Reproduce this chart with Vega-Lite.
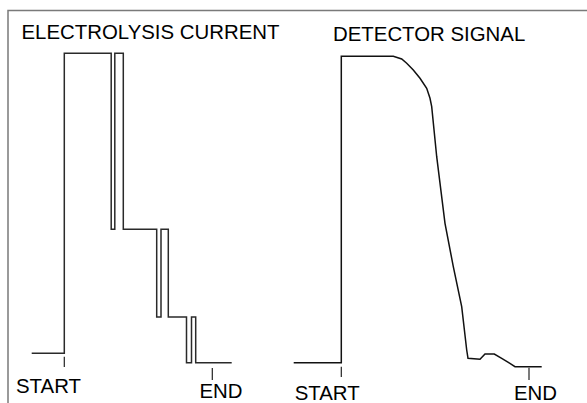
{
  "$schema": "https://vega.github.io/schema/vega-lite/v6.json",
  "width": 587,
  "height": 403,
  "padding": 0,
  "autosize": {"type": "none"},
  "background": "white",
  "config": {"view": {"stroke": null}},
  "datasets": {
    "traces": [
      {"series": "frame", "i": 0, "x": 8, "y": 403},
      {"series": "frame", "i": 1, "x": 8, "y": 10.5},
      {"series": "frame", "i": 2, "x": 587, "y": 10.5},

      {"series": "current", "i": 0, "x": 31.7, "y": 353.3},
      {"series": "current", "i": 1, "x": 64.3, "y": 353.3},
      {"series": "current", "i": 2, "x": 64.3, "y": 53.3},
      {"series": "current", "i": 3, "x": 111.2, "y": 53.3},
      {"series": "current", "i": 4, "x": 111.2, "y": 229.3},
      {"series": "current", "i": 5, "x": 114.8, "y": 229.3},
      {"series": "current", "i": 6, "x": 114.8, "y": 53.3},
      {"series": "current", "i": 7, "x": 123.3, "y": 53.3},
      {"series": "current", "i": 8, "x": 123.3, "y": 229.3},
      {"series": "current", "i": 9, "x": 156.7, "y": 229.3},
      {"series": "current", "i": 10, "x": 156.7, "y": 317},
      {"series": "current", "i": 11, "x": 161, "y": 317},
      {"series": "current", "i": 12, "x": 161, "y": 229.3},
      {"series": "current", "i": 13, "x": 168.3, "y": 229.3},
      {"series": "current", "i": 14, "x": 168.3, "y": 317},
      {"series": "current", "i": 15, "x": 186.5, "y": 317},
      {"series": "current", "i": 16, "x": 186.5, "y": 362.7},
      {"series": "current", "i": 17, "x": 191.5, "y": 362.7},
      {"series": "current", "i": 18, "x": 191.5, "y": 317},
      {"series": "current", "i": 19, "x": 195.7, "y": 317},
      {"series": "current", "i": 20, "x": 195.7, "y": 362.7},
      {"series": "current", "i": 21, "x": 231.7, "y": 362.7},

      {"series": "signal", "i": 0, "x": 293.7, "y": 362.7},
      {"series": "signal", "i": 1, "x": 341.3, "y": 362.7},
      {"series": "signal", "i": 2, "x": 341.3, "y": 56.3},
      {"series": "signal", "i": 3, "x": 393.3, "y": 56.3},
      {"series": "signal", "i": 4, "x": 401.7, "y": 59},
      {"series": "signal", "i": 5, "x": 406.7, "y": 63.3},
      {"series": "signal", "i": 6, "x": 413.3, "y": 70},
      {"series": "signal", "i": 7, "x": 420, "y": 78.3},
      {"series": "signal", "i": 8, "x": 426.7, "y": 88.3},
      {"series": "signal", "i": 9, "x": 430, "y": 98.3},
      {"series": "signal", "i": 10, "x": 431.7, "y": 106.7},
      {"series": "signal", "i": 11, "x": 436.7, "y": 156.7},
      {"series": "signal", "i": 12, "x": 445, "y": 223.3},
      {"series": "signal", "i": 13, "x": 453.3, "y": 266.7},
      {"series": "signal", "i": 14, "x": 461.7, "y": 306.7},
      {"series": "signal", "i": 15, "x": 466.7, "y": 350},
      {"series": "signal", "i": 16, "x": 468, "y": 358.3},
      {"series": "signal", "i": 17, "x": 480, "y": 359.3},
      {"series": "signal", "i": 18, "x": 485, "y": 354},
      {"series": "signal", "i": 19, "x": 494.3, "y": 354},
      {"series": "signal", "i": 20, "x": 501.7, "y": 358.3},
      {"series": "signal", "i": 21, "x": 508.3, "y": 362.3},
      {"series": "signal", "i": 22, "x": 515, "y": 366.7},
      {"series": "signal", "i": 23, "x": 541.7, "y": 366.7}
    ],
    "ticks": [
      {"x": 64.3, "y1": 356.7, "y2": 367},
      {"x": 212.3, "y1": 368, "y2": 380},
      {"x": 341.3, "y1": 366.7, "y2": 377},
      {"x": 529, "y1": 367.7, "y2": 380}
    ],
    "labels": [
      {"text": "ELECTROLYSIS CURRENT", "x": 21.5, "y": 39.3},
      {"text": "DETECTOR SIGNAL", "x": 333, "y": 40.5},
      {"text": "START", "x": 16, "y": 392.7},
      {"text": "END", "x": 199.5, "y": 398.3},
      {"text": "START", "x": 294.7, "y": 400},
      {"text": "END", "x": 514, "y": 400}
    ]
  },
  "layer": [
    {
      "data": {"name": "traces"},
      "mark": {"type": "line", "strokeWidth": 1.5, "interpolate": "linear"},
      "encoding": {
        "x": {"field": "x", "type": "quantitative", "scale": {"domain": [0, 587], "nice": false, "zero": false}, "axis": null},
        "y": {"field": "y", "type": "quantitative", "scale": {"domain": [403, 0], "nice": false, "zero": false}, "axis": null},
        "detail": {"field": "series"},
        "order": {"field": "i", "type": "quantitative"},
        "color": {
          "field": "series",
          "type": "nominal",
          "scale": {"domain": ["frame", "current", "signal"], "range": ["#7a7a7a", "#2a2a2a", "#111111"]},
          "legend": null
        }
      }
    },
    {
      "data": {"name": "ticks"},
      "mark": {"type": "rule", "strokeWidth": 1.2, "color": "#222222"},
      "encoding": {
        "x": {"field": "x", "type": "quantitative", "scale": {"domain": [0, 587], "nice": false, "zero": false}, "axis": null},
        "y": {"field": "y1", "type": "quantitative", "scale": {"domain": [403, 0], "nice": false, "zero": false}, "axis": null},
        "y2": {"field": "y2"}
      }
    },
    {
      "data": {"name": "labels"},
      "mark": {"type": "text", "font": "Liberation Sans", "fontSize": 20.4, "align": "left", "baseline": "alphabetic", "color": "#000000"},
      "encoding": {
        "x": {"field": "x", "type": "quantitative", "scale": {"domain": [0, 587], "nice": false, "zero": false}, "axis": null},
        "y": {"field": "y", "type": "quantitative", "scale": {"domain": [403, 0], "nice": false, "zero": false}, "axis": null},
        "text": {"field": "text"}
      }
    }
  ]
}
